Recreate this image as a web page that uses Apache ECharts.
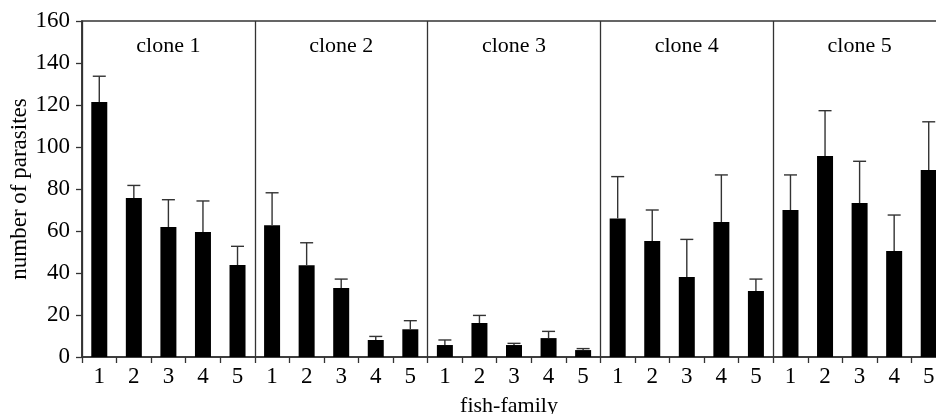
<!DOCTYPE html>
<html><head><meta charset="utf-8">
<script src="https://cdn.jsdelivr.net/npm/echarts@6/dist/echarts.min.js"></script>
<style>html,body{margin:0;padding:0;background:#fff}#c{width:936px;height:414px}</style>
</head><body><div id="c"></div>
<script>
const clones = ['clone 1','clone 2','clone 3','clone 4','clone 5'];
const families = ['1','2','3','4','5'];
const means = [121.4, 75.7, 61.9, 59.5, 43.8,
               62.7, 43.7, 32.9, 8.1, 13.2,
               5.7, 16.2, 5.7, 9.0, 3.3,
               66.0, 55.2, 38.1, 64.3, 31.4,
               70.0, 95.7, 73.3, 50.5, 89.0];
const upper = [133.7, 81.7, 74.9, 74.3, 52.7,
               78.2, 54.4, 37.1, 9.8, 17.3,
               8.1, 19.8, 6.5, 12.2, 4.0,
               85.9, 70.0, 56.0, 86.7, 37.1,
               86.7, 117.3, 93.2, 67.6, 112.0];
const yTicks = [0, 20, 40, 60, 80, 100, 120, 140, 160];

const categories = [];
clones.forEach(c => families.forEach(f => categories.push(f)));
const errData = means.map((m, i) => [i, m, upper[i]]);
const font = '"Liberation Serif","Times New Roman",serif';
const axisCol = '#333';

const chart = echarts.init(document.getElementById('c'));
chart.setOption({
  animation: false,
  title: {text: 'fish-family', left: 509, top: 395, textAlign: 'center', padding: 0,
    textStyle: {fontFamily: font, fontSize: 22, fontWeight: 'normal', color: '#000'}},
  grid: {left: 82, top: 21, width: 864, height: 336, outerBoundsMode: 'none', containLabel: false,
    show: true, borderColor: axisCol, borderWidth: 1.5, backgroundColor: 'transparent'},
  xAxis: [{
    type: 'category', data: categories, gridIndex: 0, position: 'bottom',
    axisLine: {show: true, lineStyle: {color: axisCol, width: 1.5}},
    axisTick: {show: true, interval: 0, length: 6, lineStyle: {color: axisCol, width: 1.3}},
    axisLabel: {interval: 0, margin: 8, fontFamily: font, fontSize: 23, color: '#000'},
    splitLine: {show: true, interval: function (idx) { return idx % 5 === 0; }, lineStyle: {color: axisCol, width: 1.3}}
  }, {
    type: 'category', data: clones, gridIndex: 0, position: 'top',
    axisLine: {show: false}, axisTick: {show: false}, splitLine: {show: false},
    axisLabel: {inside: true, margin: 14, interval: 0, fontFamily: font, fontSize: 22, color: '#000', verticalAlign: 'top'}
  }],
  yAxis: {
    type: 'value', min: yTicks[0], max: yTicks[yTicks.length - 1], interval: 20,
    name: 'number of parasites', nameLocation: 'middle', nameGap: 51, nameMoveOverlap: false,
    nameTextStyle: {fontFamily: font, fontSize: 23, color: '#000'},
    axisLine: {show: true, lineStyle: {color: axisCol, width: 1.5}},
    axisTick: {show: true, length: 6, lineStyle: {color: axisCol, width: 1.3}},
    axisLabel: {margin: 12, fontFamily: font, fontSize: 23, color: '#000'},
    splitLine: {show: false}
  },
  series: [{
    type: 'bar', data: means, barWidth: 16, itemStyle: {color: '#000'}, xAxisIndex: 0, z: 3
  }, {
    type: 'custom', data: errData, xAxisIndex: 0, z: 4,
    renderItem: function (params, api) {
      const x = api.value(0);
      const lo = api.coord([x, api.value(1)]);
      const hi = api.coord([x, api.value(2)]);
      const half = 6.5;
      const st = {stroke: '#333', lineWidth: 1.4};
      return {type: 'group', children: [
        {type: 'line', shape: {x1: lo[0], y1: lo[1], x2: hi[0], y2: hi[1]}, style: st},
        {type: 'line', shape: {x1: hi[0] - half, y1: hi[1], x2: hi[0] + half, y2: hi[1]}, style: st}
      ]};
    }
  }]
});
</script></body></html>
